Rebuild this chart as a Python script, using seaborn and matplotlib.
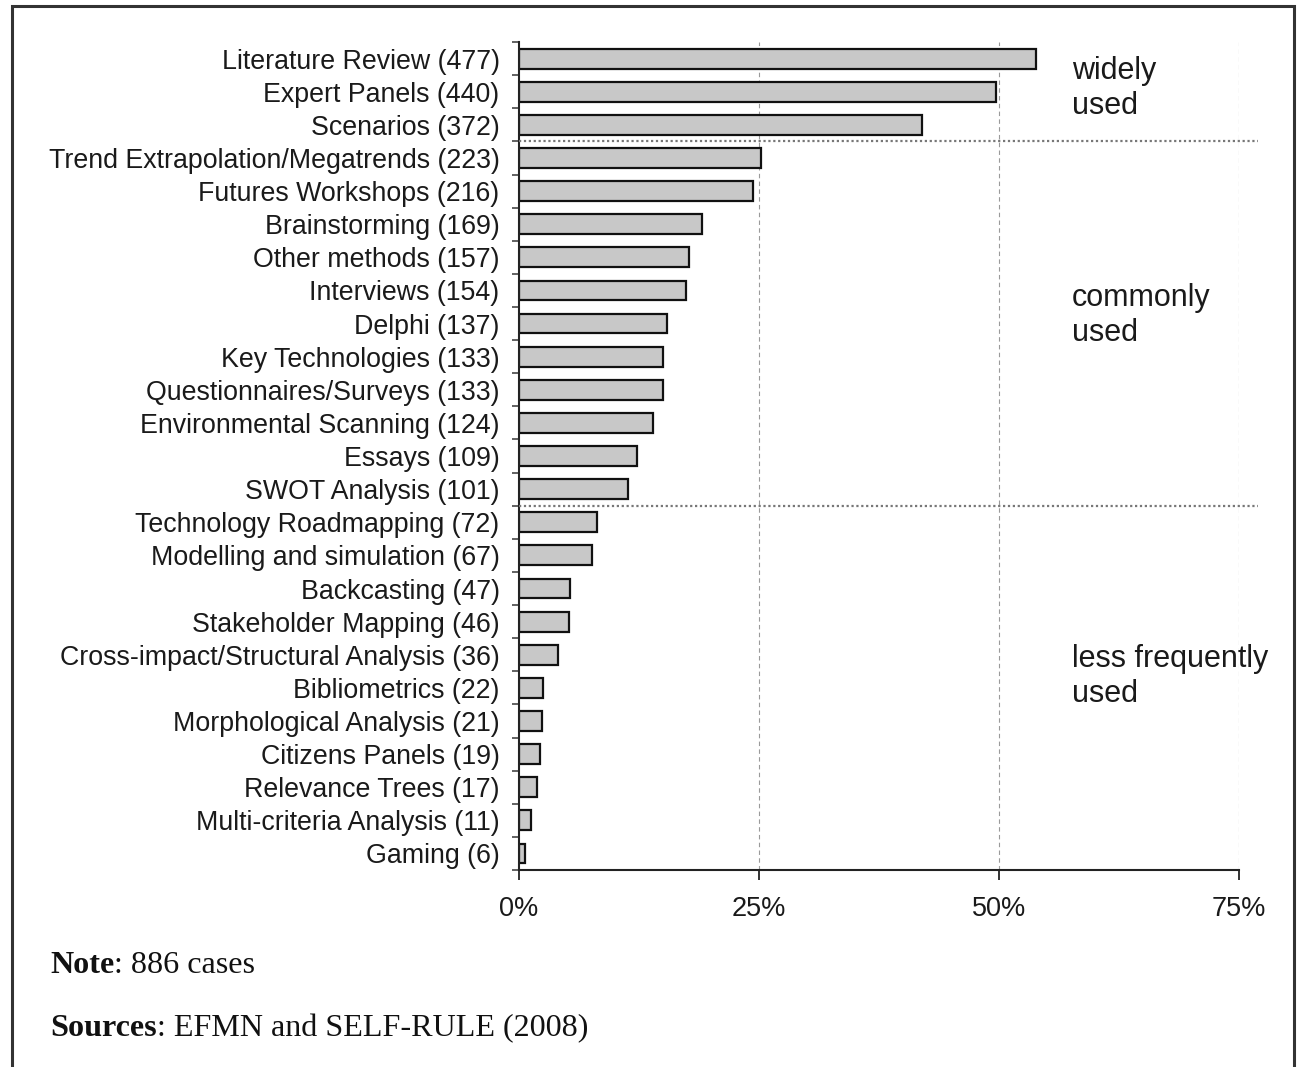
import matplotlib
matplotlib.use("Agg")
import matplotlib.pyplot as plt
import seaborn as sns
import pandas as pd
from matplotlib.patches import Rectangle

methods = [
    "Literature Review", "Expert Panels", "Scenarios",
    "Trend Extrapolation/Megatrends", "Futures Workshops", "Brainstorming",
    "Other methods", "Interviews", "Delphi", "Key Technologies",
    "Questionnaires/Surveys", "Environmental Scanning", "Essays",
    "SWOT Analysis", "Technology Roadmapping", "Modelling and simulation",
    "Backcasting", "Stakeholder Mapping", "Cross-impact/Structural Analysis",
    "Bibliometrics", "Morphological Analysis", "Citizens Panels",
    "Relevance Trees", "Multi-criteria Analysis", "Gaming",
]
counts = [477, 440, 372, 223, 216, 169, 157, 154, 137, 133, 133, 124, 109,
          101, 72, 67, 47, 46, 36, 22, 21, 19, 17, 11, 6]
n_cases = 886

# group boundaries (after index) and group labels
group_breaks = [2.5, 13.5]
group_labels = ["widely\nused", "commonly\nused", "less frequently\nused"]
group_label_y = [0.9, 7.75, 18.65]

df = pd.DataFrame({
    "method": [f"{m} ({c})" for m, c in zip(methods, counts)],
    "share": [c / n_cases for c in counts],
})

sns.set_theme(style="white")
plt.rcParams["font.family"] = ["Liberation Sans", "DejaVu Sans"]

fig = plt.figure(figsize=(13.04, 10.67), dpi=100)
ax = fig.add_axes([0.398, 0.1846, 0.552, 0.776])

sns.barplot(data=df, x="share", y="method", orient="h", color="#c8c8c8",
            saturation=1, edgecolor="#111111", linewidth=1.6, width=0.6, ax=ax)

ax.set_xlim(0, 0.75)
ax.set_ylim(24.5, -0.5)
ax.set_xlabel("")
ax.set_ylabel("")

for s in ["top", "right"]:
    ax.spines[s].set_visible(False)
for s in ["left", "bottom"]:
    ax.spines[s].set_color("#222222")
    ax.spines[s].set_linewidth(1.5)

# x axis
ax.set_xticks([0, 0.25, 0.5, 0.75])
ax.set_xticklabels(["0%", "25%", "50%", "75%"])
ax.tick_params(axis="x", bottom=True, length=7, width=1.3, color="#222222",
               labelsize=19.5, pad=12, labelcolor="#1a1a1a")
for xv in [0.25, 0.5, 0.75]:
    ax.axvline(xv, color="#9a9a9a", linestyle=(0, (4, 3)), linewidth=0.8, zorder=0)

# y axis: labels on categories, ticks on boundaries
ax.set_yticks(range(len(methods)))
ax.set_yticks([i - 0.5 for i in range(len(methods) + 1)], minor=True)
ax.tick_params(axis="y", which="major", left=False, length=0, labelsize=19.3,
               pad=14, labelcolor="#1a1a1a")
ax.tick_params(axis="y", which="minor", left=True, length=5, width=1.3,
               color="#555555")

# group separators
for yb in group_breaks:
    ax.plot([0, 0.77], [yb, yb], color="#777777", linestyle=(0, (1, 1.2)),
            linewidth=1.6, clip_on=False, zorder=3)
for lab, yl in zip(group_labels, group_label_y):
    ax.text(0.576, yl, lab, fontsize=22, va="center", ha="left",
            color="#1a1a1a", linespacing=1.2)

# frame around figure
fig.patches.append(Rectangle((0.0092, -0.05), 0.9831, 1.0444, fill=False,
                             edgecolor="#333333", linewidth=2.2,
                             transform=fig.transFigure, figure=fig))

# notes
serif = ["Liberation Serif", "DejaVu Serif"]
t1 = fig.text(0.0383, 0.088, "Note", fontsize=23.1, fontweight="bold",
              family=serif, va="baseline", color="#111111")
t2 = fig.text(0.0383, 0.029, "Sources", fontsize=23.1, fontweight="bold",
              family=serif, va="baseline", color="#111111")
ax.annotate(": 886 cases", xy=(1, 0), xycoords=t1, fontsize=23.1,
            family=serif, va="bottom", ha="left", color="#111111",
            annotation_clip=False)
ax.annotate(": EFMN and SELF-RULE (2008)", xy=(1, 0), xycoords=t2,
            fontsize=23.1, family=serif, va="bottom", ha="left",
            color="#111111", annotation_clip=False)

fig.savefig("out.png", dpi=100)
